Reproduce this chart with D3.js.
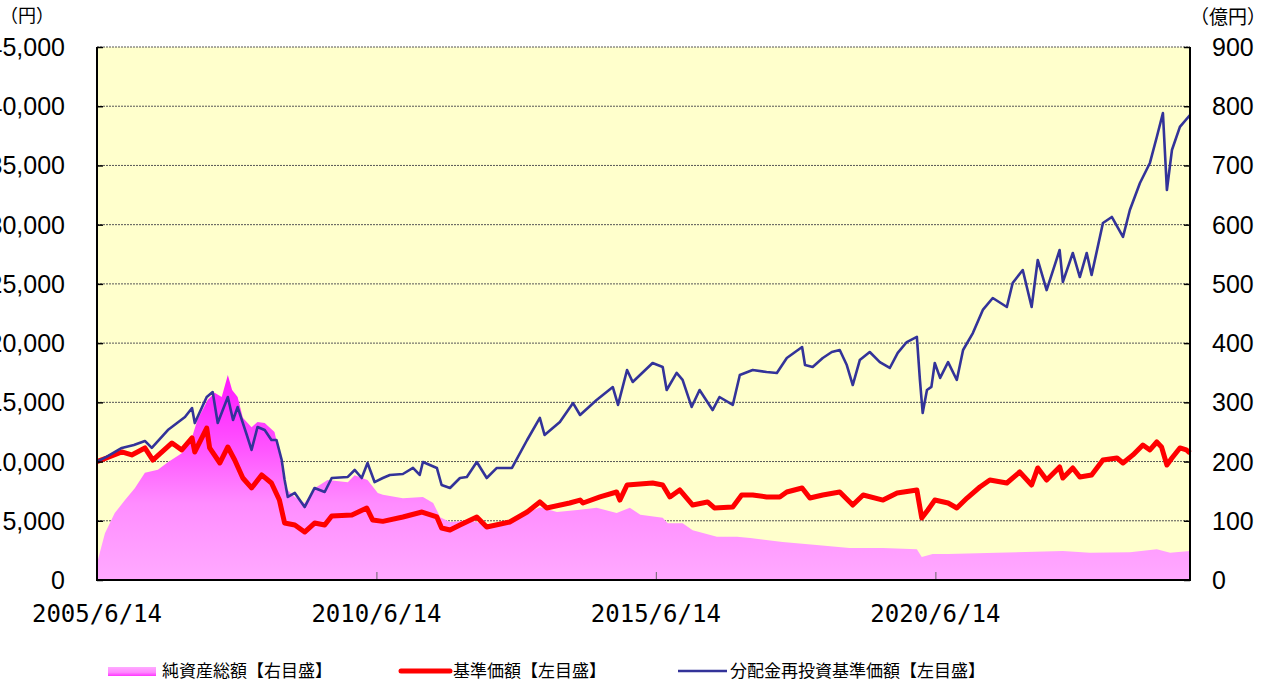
<!DOCTYPE html>
<html>
<head>
<meta charset="utf-8">
<script src="https://cdn.jsdelivr.net/npm/d3@7"></script>
<style>
  body { margin: 0; background: #fff; }
  svg { display: block; }
</style>
</head>
<body>
<div id="graph-container"></div>
<script>
// 純資産総額 (億円, 右目盛)
var totalAssets = [
    ["2005-06-14",15],["2005-06-20",34],["2005-08-05",79],["2005-10-08",113],["2005-12-14",135],
    ["2006-02-16",155],["2006-04-23",181],["2006-07-17",186],["2006-09-20",199],["2006-12-20",214],
    ["2007-02-25",241],["2007-04-01",270],["2007-06-07",304],["2007-07-23",316],["2007-09-07",309],
    ["2007-10-17",346],["2007-11-14",321],["2007-12-20",309],["2008-01-23",274],["2008-03-20",258],
    ["2008-04-28",267],["2008-06-14",265],["2008-08-17",250],["2008-09-18",214],["2008-10-22",157],
    ["2008-12-28",140],["2009-03-02",130],["2009-05-06",155],["2009-07-30",169],["2009-12-09",165],
    ["2010-01-23",177],["2010-04-17",169],["2010-06-23",147],["2010-07-26",144],["2010-12-04",138],
    ["2011-04-14",140],["2011-06-20",130],["2011-08-05",106],["2011-10-08",98],["2012-02-16",101],
    ["2012-06-04",93],["2012-11-01",98],["2013-02-23",113],["2013-05-17",123],["2013-09-06",115],
    ["2014-01-17",118],["2014-05-23",122],["2014-10-01",113],["2014-12-26",122],["2015-03-05",110],
    ["2015-07-29",105],["2015-08-31",96],["2015-12-06",96],["2016-02-10",84],["2016-07-17",73],
    ["2016-11-26",73],["2017-02-20",71],["2017-09-20",64],["2018-04-29",59],["2018-12-01",54],
    ["2019-07-08",54],["2020-02-14",52],["2020-03-17",39],["2020-05-27",44],["2020-09-05",44],
    ["2021-07-20",46],["2022-09-25",49],["2023-03-20",46],["2023-12-07",47],["2024-05-31",52],
    ["2024-08-26",46],["2025-01-03",49]
];

// 基準価額 (円, 左目盛)
var basePrice = [
    ["2005-06-14",10000],["2005-08-15",10300],["2005-11-23",10810],["2006-01-27",10560],["2006-04-23",11150],
    ["2006-06-14",10130],["2006-10-17",11570],["2006-12-20",10980],["2007-02-25",11990],["2007-03-15",10810],
    ["2007-06-01",12830],["2007-06-20",11150],["2007-08-26",9880],["2007-10-17",11230],["2007-12-01",10130],
    ["2008-01-23",8610],["2008-03-20",7770],["2008-05-25",8870],["2008-07-28",8190],["2008-09-18",6750],
    ["2008-10-22",4810],["2008-12-28",4640],["2009-03-02",4050],["2009-05-06",4810],["2009-07-11",4640],
    ["2009-08-26",5400],["2010-01-05",5490],["2010-04-12",6080],["2010-05-20",5070],["2010-07-26",4950],
    ["2010-12-04",5320],["2011-04-08",5740],["2011-07-14",5320],["2011-08-14",4390],["2011-10-08",4220],
    ["2011-12-12",4640],["2012-03-31",5320],["2012-06-04",4470],["2012-11-01",4900],["2013-02-23",5740],
    ["2013-05-17",6590],["2013-07-01",6080],["2013-11-28",6500],["2014-02-04",6750],["2014-02-23",6500],
    ["2014-06-14",7010],["2014-10-01",7430],["2014-10-22",6750],["2014-12-08",8020],["2015-05-24",8190],
    ["2015-07-29",8020],["2015-09-14",7010],["2015-11-17",7600],["2016-02-10",6330],["2016-05-17",6590],
    ["2016-07-01",6080],["2016-10-29",6160],["2016-12-26",7180],["2017-03-08",7180],["2017-06-07",7010],
    ["2017-09-01",7010],["2017-10-17",7430],["2018-01-25",7770],["2018-03-17",6920],["2018-06-09",7180],
    ["2018-09-28",7430],["2018-12-22",6330],["2019-02-28",7180],["2019-07-08",6750],["2019-10-08",7350],
    ["2020-02-14",7600],["2020-03-17",5230],["2020-04-26",5910],["2020-06-10",6750],["2020-09-05",6500],
    ["2020-11-01",6080],["2021-01-07",6920],["2021-04-01",7850],["2021-06-05",8440],["2021-09-24",8190],
    ["2021-12-17",9120],["2022-03-05",8020],["2022-04-14",9460],["2022-06-11",8440],["2022-09-04",9540],
    ["2022-09-25",8610],["2022-11-29",9460],["2023-01-14",8700],["2023-04-01",8870],["2023-06-14",10130],
    ["2023-09-14",10300],["2023-10-23",9880],["2023-12-27",10560],["2024-03-01",11400],["2024-04-16",10980],
    ["2024-05-31",11650],["2024-07-01",11230],["2024-08-05",9710],["2024-09-07",10300],["2024-10-29",11150],
    ["2024-12-10",10980],["2025-01-03",10720]
];

// 分配金再投資基準価額 (円, 左目盛)
var reinvestedPrice = [
    ["2005-06-14",10000],["2005-08-15",10400],["2005-11-23",11150],["2006-02-10",11400],["2006-04-23",11740],
    ["2006-06-07",11150],["2006-09-20",12660],["2007-01-10",13760],["2007-02-25",14520],["2007-03-15",13250],
    ["2007-06-01",15450],["2007-07-10",15870],["2007-08-12",13250],["2007-10-17",15450],["2007-11-20",13510],
    ["2007-12-20",14600],["2008-02-18",12240],["2008-03-20",10980],["2008-04-28",12920],["2008-06-14",12660],
    ["2008-07-28",11820],["2008-08-30",11820],["2008-10-03",10130],["2008-10-22",8440],["2008-11-12",7010],
    ["2008-12-28",7350],["2009-03-02",6160],["2009-05-06",7770],["2009-07-11",7430],["2009-08-26",8610],
    ["2009-12-09",8700],["2010-01-23",9290],["2010-03-10",8610],["2010-04-17",9880],["2010-06-02",8270],
    ["2010-07-26",8610],["2010-09-10",8870],["2010-12-04",8950],["2011-02-08",9460],["2011-03-24",8870],
    ["2011-04-14",9960],["2011-07-14",9460],["2011-08-14",8020],["2011-10-08",7770],["2011-12-12",8610],
    ["2012-01-26",8700],["2012-03-31",9960],["2012-06-04",8610],["2012-08-09",9460],["2012-11-16",9460],
    ["2013-02-23",11820],["2013-05-17",13680],["2013-06-17",12240],["2013-09-25",13340],["2013-12-20",14940],
    ["2014-02-04",13930],["2014-05-23",15200],["2014-09-06",16290],["2014-10-10",14780],["2014-12-08",17730],
    ["2015-01-14",16720],["2015-05-24",18320],["2015-07-29",17990],["2015-08-24",16040],["2015-10-28",17480],
    ["2015-12-06",16890],["2016-02-03",14610],["2016-03-26",16040],["2016-06-19",14350],["2016-08-03",15450],
    ["2016-10-29",14780],["2016-12-14",17310],["2017-03-08",17730],["2017-06-07",17560],["2017-08-13",17480],
    ["2017-10-17",18740],["2018-01-25",19670],["2018-02-13",18150],["2018-04-04",17990],["2018-06-09",18740],
    ["2018-08-07",19250],["2018-09-28",19420],["2018-11-13",18150],["2018-12-22",16460],["2019-02-06",18570],
    ["2019-04-12",19250],["2019-06-17",18400],["2019-08-21",17900],["2019-10-12",19170],["2019-12-10",20090],
    ["2020-02-14",20520],["2020-03-05",16890],["2020-03-23",14100],["2020-04-20",16040],["2020-05-19",16300],
    ["2020-06-10",18320],["2020-07-15",17060],["2020-09-05",18400],["2020-11-01",16890],["2020-12-12",19420],
    ["2021-02-14",20850],["2021-04-20",22800],["2021-06-24",23810],["2021-09-24",23050],["2021-11-01",25080],
    ["2022-01-06",26170],["2022-03-05",23050],["2022-04-14",27020],["2022-06-11",24480],["2022-09-04",27860],
    ["2022-09-25",25160],["2022-11-29",27610],["2023-01-14",25580],["2023-02-28",27610],["2023-04-01",25750],
    ["2023-06-14",30140],["2023-08-11",30650],["2023-10-23",28960],["2023-12-07",31240],["2024-02-11",33520],
    ["2024-04-16",35210],["2024-05-31",37400],["2024-07-10",39430],["2024-08-05",32930],["2024-09-07",36300],
    ["2024-10-29",38250],["2025-01-03",39260]
];

var xTickDates = ["2005-06-14", "2010-06-14", "2015-06-14", "2020-06-14"];
var leftTicks = [0, 5000, 10000, 15000, 20000, 25000, 30000, 35000, 40000, 45000];
var rightTicks = [0, 100, 200, 300, 400, 500, 600, 700, 800, 900];
var legendLabels = ["純資産総額【右目盛】", "基準価額【左目盛】", "分配金再投資基準価額【左目盛】"];

var parseDate = d3.timeParse("%Y-%m-%d");

function visualiseData() {
    var width = 1267, height = 683;
    var left = 97, right = 1190, top = 47, bottom = 580;
    var numFont = "'Liberation Sans', Arial, sans-serif";
    var jpFont = "'Noto Sans CJK JP', sans-serif";

    var svg = d3.select("#graph-container")
        .append("svg")
        .attr("width", width)
        .attr("height", height);

    var x = d3.scaleTime()
        .domain([parseDate("2005-06-14"), parseDate("2025-01-03")])
        .range([left, right]);
    var yLeft = d3.scaleLinear().domain([0, 45000]).range([bottom, top]);
    var yRight = d3.scaleLinear().domain([0, 900]).range([bottom, top]);

    // Hintergrund
    svg.append("rect")
        .attr("x", left).attr("y", top)
        .attr("width", right - left).attr("height", bottom - top)
        .attr("fill", "#ffffcc");

    var defs = svg.append("defs");
    var grad = defs.append("linearGradient")
        .attr("id", "assetFill")
        .attr("gradientUnits", "userSpaceOnUse")
        .attr("x1", 0).attr("x2", 0)
        .attr("y1", yRight(340)).attr("y2", yRight(0));
    grad.append("stop").attr("offset", 0).attr("stop-color", "#ff1aff");
    grad.append("stop").attr("offset", 0.35).attr("stop-color", "#ff55ff");
    grad.append("stop").attr("offset", 0.62).attr("stop-color", "#ff8cff");
    grad.append("stop").attr("offset", 1).attr("stop-color", "#ffaaff");

    var legGrad = defs.append("linearGradient")
        .attr("id", "legendFill")
        .attr("x1", 0).attr("x2", 0).attr("y1", 0).attr("y2", 1);
    legGrad.append("stop").attr("offset", 0).attr("stop-color", "#ffaaff");
    legGrad.append("stop").attr("offset", 0.6).attr("stop-color", "#ff88ff");
    legGrad.append("stop").attr("offset", 1).attr("stop-color", "#ff33ff");

    // Gitterlinien
    svg.append("g")
        .selectAll("line")
        .data(leftTicks.filter(d => d > 0))
        .join("line")
        .attr("x1", left).attr("x2", right)
        .attr("y1", d => yLeft(d)).attr("y2", d => yLeft(d))
        .attr("stroke", "#555")
        .attr("stroke-width", 1)
        .attr("stroke-dasharray", "2,1");

    // Flaeche Nettovermoegen
    var area = d3.area()
        .x(d => x(parseDate(d[0])))
        .y0(yRight(0))
        .y1(d => yRight(d[1]));
    svg.append("path")
        .datum(totalAssets)
        .attr("d", area)
        .attr("fill", "url(#assetFill)");

    var lineLeft = d3.line()
        .x(d => x(parseDate(d[0])))
        .y(d => yLeft(d[1]));

    svg.append("path")
        .datum(basePrice)
        .attr("d", lineLeft)
        .attr("fill", "none")
        .attr("stroke", "#ff0000")
        .attr("stroke-width", 5)
        .attr("stroke-linejoin", "round");

    svg.append("path")
        .datum(reinvestedPrice)
        .attr("d", lineLeft)
        .attr("fill", "none")
        .attr("stroke", "#333399")
        .attr("stroke-width", 2.6)
        .attr("stroke-linejoin", "round");

    // Achsen
    var leftAxis = svg.append("g")
        .attr("transform", "translate(" + left + ",0)")
        .call(d3.axisRight(yLeft).tickValues(leftTicks).tickSize(6).tickFormat(""));
    leftAxis.select(".domain").remove();
    leftAxis.selectAll(".tick line").attr("stroke", "#000").attr("stroke-width", 1.5);

    var rightAxis = svg.append("g")
        .attr("transform", "translate(" + right + ",0)")
        .call(d3.axisLeft(yRight).tickValues(rightTicks).tickSize(6).tickFormat(""));
    rightAxis.select(".domain").remove();
    rightAxis.selectAll(".tick line").attr("stroke", "#000").attr("stroke-width", 1.5);

    var bottomAxis = svg.append("g")
        .attr("transform", "translate(0," + bottom + ")")
        .call(d3.axisTop(x).tickValues(xTickDates.map(parseDate)).tickSize(8).tickFormat(""));
    bottomAxis.select(".domain").remove();
    bottomAxis.selectAll(".tick line").attr("stroke", "#666").attr("stroke-width", 1);

    // Rahmen
    svg.append("path")
        .attr("d", "M" + left + "," + top + "V" + bottom + "H" + right + "V" + top)
        .attr("fill", "none")
        .attr("stroke", "#000")
        .attr("stroke-width", 2);

    // Beschriftung (linke Werte laufen wie im Original ueber den Bildrand)
    var fmt = d3.format(",");
    svg.append("g")
        .selectAll("text")
        .data(leftTicks)
        .join("text")
        .attr("x", 65)
        .attr("y", d => yLeft(d))
        .attr("dy", "0.36em")
        .attr("text-anchor", "end")
        .style("font-family", numFont)
        .style("font-size", "25px")
        .text(d => fmt(d));

    svg.append("g")
        .selectAll("text")
        .data(rightTicks)
        .join("text")
        .attr("x", 1212)
        .attr("y", d => yRight(d))
        .attr("dy", "0.36em")
        .attr("text-anchor", "start")
        .style("font-family", numFont)
        .style("font-size", "25px")
        .text(d => d);

    var dateFmt = d3.timeFormat("%Y/%-m/%-d");
    svg.append("g")
        .selectAll("text")
        .data(xTickDates)
        .join("text")
        .attr("x", d => x(parseDate(d)))
        .attr("y", 622)
        .attr("text-anchor", "middle")
        .style("font-family", "'DejaVu Sans Mono', monospace")
        .style("font-size", "24px")
        .text(d => dateFmt(parseDate(d)));

    svg.append("text")
        .attr("x", 0).attr("y", 22)
        .style("font-family", jpFont)
        .style("font-size", "18px")
        .text("（円）");
    svg.append("text")
        .attr("x", 1266).attr("y", 24)
        .attr("text-anchor", "end")
        .style("font-family", jpFont)
        .style("font-size", "19px")
        .text("（億円）");

    // Legende
    var legY = 671;
    svg.append("rect")
        .attr("x", 108).attr("y", legY - 4)
        .attr("width", 48).attr("height", 9)
        .attr("fill", "url(#legendFill)");
    svg.append("line")
        .attr("x1", 401).attr("x2", 450)
        .attr("y1", legY).attr("y2", legY)
        .attr("stroke", "#ff0000")
        .attr("stroke-width", 5)
        .attr("stroke-linecap", "round");
    svg.append("line")
        .attr("x1", 678).attr("x2", 727)
        .attr("y1", legY).attr("y2", legY)
        .attr("stroke", "#333399")
        .attr("stroke-width", 2.5);

    var legX = [162, 453, 730];
    svg.append("g")
        .selectAll("text")
        .data(legendLabels)
        .join("text")
        .attr("x", (d, i) => legX[i])
        .attr("y", legY)
        .attr("dy", "0.35em")
        .style("font-family", jpFont)
        .style("font-size", "17px")
        .text(d => d);
}

visualiseData();
</script>
</body>
</html>
